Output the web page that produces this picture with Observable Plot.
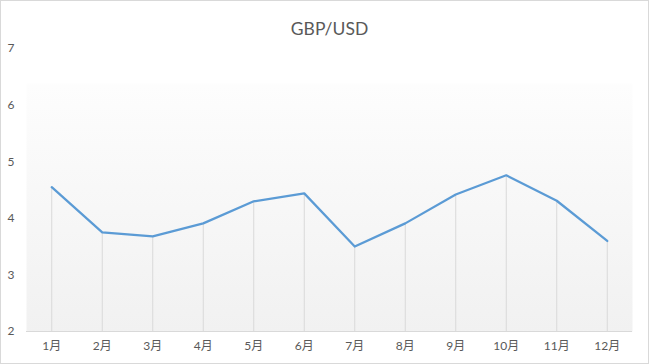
<!DOCTYPE html>
<html>
<head>
<meta charset="utf-8">
<script src="https://cdn.jsdelivr.net/npm/d3@7"></script>
<script src="https://cdn.jsdelivr.net/npm/@observablehq/plot@0.6"></script>
<style>
  html, body { margin: 0; padding: 0; background: #fff; }
  #wrap { position: relative; width: 649px; height: 364px; }
  #border { position: absolute; left: 0; top: 0; width: 647px; height: 362px; border: 1px solid #d9d9d9; pointer-events: none; }
</style>
</head>
<body>
<div id="wrap"><div id="border"></div></div>
<script>
const title = "GBP/USD";
const months = ["1月","2月","3月","4月","5月","6月","7月","8月","9月","10月","11月","12月"];
const values = [4.55, 3.75, 3.68, 3.91, 4.30, 4.44, 3.50, 3.91, 4.42, 4.76, 4.31, 3.60];
const yTicks = [2, 3, 4, 5, 6, 7];

const data = months.map((m, i) => ({month: m, value: values[i]}));
const font = "Lato, 'Noto Sans CJK SC', sans-serif";

const chart = Plot.plot({
  width: 649,
  height: 364,
  marginLeft: 26,
  marginRight: 17,
  marginTop: 48,
  marginBottom: 33,
  style: {fontFamily: font, fontSize: "12px", color: "#595959", background: "transparent"},
  x: {type: "point", domain: months, padding: 0.5, round: false, label: null},
  y: {domain: [2, 7], ticks: yTicks, label: null},
  marks: [
    Plot.frame({fill: "url(#bgGrad)", stroke: "none"}),
    Plot.ruleX(data, {x: "month", y1: 2, y2: "value", stroke: "#d9d9d9", strokeWidth: 1}),
    Plot.ruleY([2], {stroke: "#d9d9d9", strokeWidth: 1}),
    Plot.lineY(data, {x: "month", y: "value", stroke: "#5b9bd5", strokeWidth: 2.25}),
    Plot.axisY({ticks: yTicks, tickFormat: d => String(d), tickSize: 0, tickPadding: 12, label: null, fill: "#595959"}),
    Plot.axisX({tickSize: 0, tickPadding: 10, label: null, fill: "#595959"}),
    Plot.text([title], {frameAnchor: "top", dy: -26, text: d => d, fontSize: 17.5, fill: "#595959"})
  ]
});

const svg = d3.select(chart);
const defs = svg.insert("defs", ":first-child");
const grad = defs.append("linearGradient").attr("id", "bgGrad").attr("x1", 0).attr("y1", 0).attr("x2", 0).attr("y2", 1);
grad.append("stop").attr("offset", "0%").attr("stop-color", "#ffffff");
grad.append("stop").attr("offset", "12%").attr("stop-color", "#ffffff");
grad.append("stop").attr("offset", "13%").attr("stop-color", "#fdfdfd");
grad.append("stop").attr("offset", "100%").attr("stop-color", "#f1f1f1");

document.getElementById("wrap").prepend(chart);
</script>
</body>
</html>
